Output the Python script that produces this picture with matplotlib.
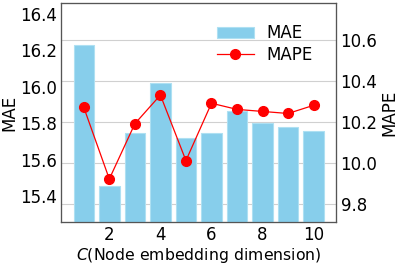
import numpy as np
import matplotlib.pyplot as plt

dims = [1, 2, 3, 4, 5, 6, 7, 8, 9, 10]
mae = [16.23, 15.46, 15.75, 16.02, 15.72, 15.75, 15.87, 15.80, 15.78, 15.76]
mape = [10.27, 9.92, 10.19, 10.33, 10.01, 10.29, 10.26, 10.25, 10.24, 10.28]
mae_ticks = [15.4, 15.6, 15.8, 16.0, 16.2, 16.4]
mape_ticks = [9.8, 10.0, 10.2, 10.4, 10.6]

fig = plt.figure(figsize=(3.99, 2.64), dpi=100)
ax1 = fig.add_subplot(111)
fig.subplots_adjust(left=0.153, right=0.843, top=0.989, bottom=0.159)

# grid layer behind the bars, on the MAPE scale
axg = ax1.twinx()
ax2 = ax1.twinx()
axg.set_zorder(0)
ax1.set_zorder(1)
ax2.set_zorder(2)
ax1.patch.set_visible(False)
ax2.patch.set_visible(False)

bars = ax1.bar(dims, mae, width=0.8, color="skyblue", edgecolor="#aee0f2",
               linewidth=0.8, label="MAE")
line, = ax2.plot(dims, mape, color="red", linewidth=0.9, marker="o",
                 markersize=7, label="MAPE")

ax1.set_ylim(15.26, 16.46)
ax2.set_ylim(9.71, 10.78)
axg.set_ylim(ax2.get_ylim())
ax1.set_xticks([2, 4, 6, 8, 10])
ax1.set_yticks(mae_ticks)
ax1.set_yticklabels([f"{t:.1f}" for t in mae_ticks])
ax2.set_yticks(mape_ticks)
axg.set_yticks(mape_ticks)
axg.grid(axis="y", color="#d0d0d0", linewidth=0.8)
axg.tick_params(right=False, labelright=False)

for ax in (ax1, ax2, axg):
    ax.tick_params(length=0, labelsize=12, pad=3)
    for s in ax.spines.values():
        s.set_color("#555555")

ax1.set_ylabel("MAE", fontsize=12, labelpad=1)
ax2.set_ylabel("MAPE", fontsize=12, labelpad=2)
ax1.set_xlabel("$C$(Node embedding dimension)", fontsize=11.3, labelpad=1)

ax2.legend([bars, line], ["MAE", "MAPE"], loc="upper right", frameon=False,
           fontsize=12, labelspacing=0.2, handlelength=2.2,
           bbox_to_anchor=(0.97, 0.97))

fig.savefig("out.png", dpi=100)
